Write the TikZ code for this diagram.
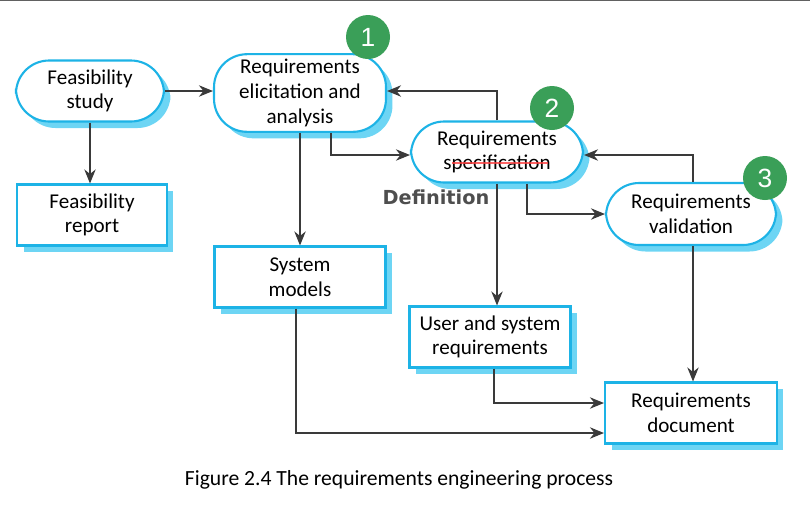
\documentclass[tikz,border=0pt]{standalone}
\usepackage{fontspec}
\setmainfont{Carlito}
\newfontfamily\deffont{DejaVu Sans}
\newfontfamily\badgefont{Liberation Sans}
\usetikzlibrary{positioning, arrows.meta, calc, shadows}

\definecolor{edgecyan}{HTML}{1DB3E6}
\definecolor{shadecyan}{HTML}{6DD5F4}
\definecolor{badgegreen}{HTML}{3A9F58}
\definecolor{linegray}{HTML}{3A3A3A}

\begin{document}
\begin{tikzpicture}[
  x=0.02cm, y=-0.02cm,
  font=\fontsize{12}{14}\selectfont,
  shade/.style={drop shadow={shadow xshift=0.13cm, shadow yshift=-0.13cm,
    fill=shadecyan, opacity=1}},
  stadium/.style={draw=edgecyan, line width=1.2pt, fill=white, shade,
    rounded corners=0.66cm, align=center, inner sep=3pt},
  doc/.style={draw=edgecyan, line width=1.2pt, fill=white, shade,
    align=center, inner sep=3pt, minimum height=1.22cm},
  badge/.style={circle, fill=badgegreen, text=white, minimum size=0.88cm,
    inner sep=0pt, font=\badgefont\fontsize{15}{15}\selectfont},
  flow/.style={-{Stealth[length=8pt, width=6.5pt]}, line width=0.7pt, draw=linegray}
]
\useasboundingbox (0,0) rectangle (810,522);
\draw[line width=1pt, linegray!80] (0,0.6) -- (810,0.6);

% processes
\node[stadium, minimum width=2.96cm, minimum height=1.22cm] (feas) at (90,91) {Feasibility\\study};
\node[stadium, minimum width=3.44cm, minimum height=1.52cm] (elic) at (300,93)
  {Requirements\\elicitation and\\analysis};
\node[stadium, minimum width=3.44cm, minimum height=1.22cm] (spec) at (497,152)
  {Requirements\\specification};
\node[stadium, minimum width=3.40cm, minimum height=1.24cm] (val) at (691,214)
  {Requirements\\validation};

% documents
\node[doc, minimum width=3.00cm] (frep) at (92,215) {Feasibility\\report};
\node[doc, minimum width=3.42cm] (smod) at (300,277) {System\\models};
\node[doc, minimum width=3.22cm] (user) at (490,337) {User and system\\requirements};
\node[doc, minimum width=3.44cm] (rdoc) at (691,413) {Requirements\\document};

\node[badge] (b1) at (368,37) {1};
\node[badge] (b2) at (552,108) {2};
\node[badge] (b3) at (765,178) {3};

\draw[red!75, line width=0.8pt, opacity=0.8] (452,163) -- (548,163);
\node[font=\deffont\bfseries\fontsize{11}{13}\selectfont, text=linegray!90] (defn) at (436,197) {Definition};

\draw[flow] (feas.east) -- (feas.east -| elic.west);
\draw[flow] (feas.south) -- (feas.south |- frep.north);
\draw[flow] (elic) -- (smod);
\draw[flow] ([xshift=0.62cm]elic.south) |- ([yshift=-0.06cm]spec.west);
\draw[flow] (spec.north) |- ([yshift=0.04cm]elic.east);
\draw[flow] ([xshift=0.6cm]spec.south) |- (val.west);
\draw[flow] ([xshift=0.04cm]val.north) |- ([yshift=-0.06cm]spec.east);
\draw[flow] (spec.south) -- (spec.south |- user.north);
\draw[flow] ([xshift=0.04cm]val.south) -- ([xshift=0.04cm]rdoc.north);
\draw[flow] ([xshift=0.08cm]user.south) |- ([yshift=0.2cm]rdoc.west);
\draw[flow] ([xshift=-0.08cm]smod.south) |- ([yshift=-0.4cm]rdoc.west);

\node[font=\fontsize{12.3}{15}\selectfont] (cap) at (399,480)
  {Figure 2.4 The requirements engineering process};
\end{tikzpicture}
\end{document}
